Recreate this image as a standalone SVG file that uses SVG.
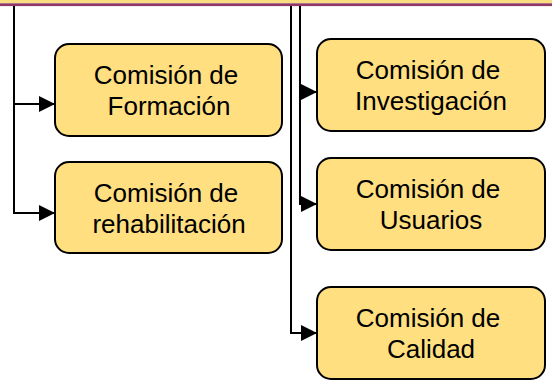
<svg xmlns="http://www.w3.org/2000/svg" width="552" height="386" viewBox="0 0 552 386">
<defs>
<style>
.box{fill:#FFDF80;stroke:#000;stroke-width:2}
.lbl{font-family:"Liberation Sans",Arial,sans-serif;font-size:26px;fill:#000;text-anchor:middle}
.ln{fill:none;stroke:#000;stroke-width:2}
</style>
<marker id="ah" markerWidth="16" markerHeight="16" viewBox="0 0 16 16" refX="16" refY="8" orient="auto" markerUnits="userSpaceOnUse">
<path d="M0,0 L16,8 L0,16 Z" fill="#000"/>
</marker>
</defs>
<rect x="0" y="0" width="552" height="3.3" fill="#FADD7E"/>
<rect x="0" y="3.3" width="552" height="2.8" fill="#8E3A68"/>
<g id="connectors">
<path class="ln" d="M14,6 V213 H55" marker-end="url(#ah)"/>
<path class="ln" d="M14,104 H55" marker-end="url(#ah)"/>
<path class="ln" d="M291,6 V333 H317" marker-end="url(#ah)"/>
<path class="ln" d="M300,6 V204 H317" marker-end="url(#ah)"/>
<path class="ln" d="M300,92 H317" marker-end="url(#ah)"/>
</g>
<g id="formacion">
<rect class="box" x="55" y="44" width="227" height="92" rx="14"/>
<text class="lbl" x="166" y="84">Comisión de</text>
<text class="lbl" x="169" y="115">Formación</text>
</g>
<g id="rehabilitacion">
<rect class="box" x="55" y="162" width="227" height="91" rx="14"/>
<text class="lbl" x="166" y="202">Comisión de</text>
<text class="lbl" x="169" y="233">rehabilitación</text>
</g>
<g id="investigacion">
<rect class="box" x="317" y="39" width="228" height="92" rx="14"/>
<text class="lbl" x="428" y="79">Comisión de</text>
<text class="lbl" x="431" y="110">Investigación</text>
</g>
<g id="usuarios">
<rect class="box" x="317" y="158" width="228" height="92" rx="14"/>
<text class="lbl" x="428" y="198">Comisión de</text>
<text class="lbl" x="431" y="229">Usuarios</text>
</g>
<g id="calidad">
<rect class="box" x="317" y="287" width="228" height="92" rx="14"/>
<text class="lbl" x="428" y="327">Comisión de</text>
<text class="lbl" x="431" y="358">Calidad</text>
</g>
</svg>
